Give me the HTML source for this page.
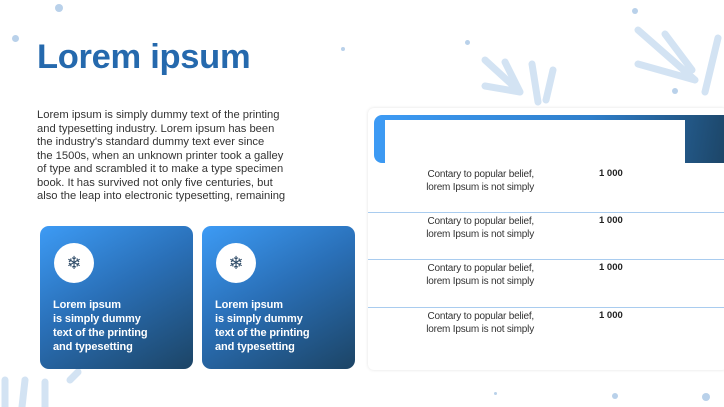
<!DOCTYPE html>
<html><head><style>
body{margin:0;width:724px;height:407px;overflow:hidden;background:#fff;font-family:"Liberation Sans",sans-serif;position:relative}
.a{position:absolute}
.dot{position:absolute;border-radius:50%;background:#b9d1ea}
.card{position:absolute;top:226px;width:153px;height:143px;border-radius:9px;background:linear-gradient(150deg,#3d9bf5 0%,#2a70b8 45%,#1c4465 100%)}
.circ{position:absolute;left:14px;top:17px;width:40px;height:40px;border-radius:50%;background:#fff;text-align:center;line-height:40px;color:#2d4a66;font-size:18px}
.ct{position:absolute;left:13px;top:72px;color:#fff;font-weight:bold;font-size:11px;line-height:14px;letter-spacing:-0.1px}
.rt{position:absolute;right:190px;width:170px;text-align:right;font-size:10px;line-height:13px;color:#333;letter-spacing:-0.2px}
.num{position:absolute;left:599px;font-size:9.5px;font-weight:bold;color:#222}
.ln{position:absolute;left:368px;width:356px;height:1px;background:#a9ccef}
</style></head><body>
<svg class="a" style="left:0;top:0" width="724" height="407">
<g fill="none" stroke="#d3e3f3" stroke-width="7" stroke-linecap="round" stroke-linejoin="round">
<path d="M485 60 L520 92 M505 62 L520 92 M485 86 L520 92 M532 64 L538 102 M553 70 L546 100"/>
<path d="M638 30 L695 80 M665 34 L692 70 M638 64 L695 80 M718 38 L705 92"/>
<path d="M5 380 L5 407 M25 380 L22 407 M45 382 L45 407 M70 380 L78 372"/>
</g>
</svg>
<div class="dot" style="left:55px;top:4px;width:8px;height:8px"></div>
<div class="dot" style="left:12px;top:35px;width:7px;height:7px"></div>
<div class="dot" style="left:632px;top:8px;width:6px;height:6px"></div>
<div class="dot" style="left:465px;top:40px;width:5px;height:5px"></div>
<div class="dot" style="left:672px;top:88px;width:6px;height:6px"></div>
<div class="dot" style="left:341px;top:47px;width:4px;height:4px"></div>
<div class="dot" style="left:612px;top:393px;width:6px;height:6px"></div>
<div class="dot" style="left:702px;top:393px;width:8px;height:8px"></div>
<div class="dot" style="left:494px;top:392px;width:3px;height:3px"></div>
<div class="a" style="left:37px;top:38px;font-size:34.5px;font-weight:bold;color:#2569ad;letter-spacing:-0.3px">Lorem ipsum</div>
<div class="a" style="left:37px;top:109px;font-size:11.2px;line-height:13.5px;color:#333;white-space:nowrap;letter-spacing:0px">Lorem ipsum is simply dummy text of the printing<br>and typesetting industry. Lorem ipsum has been<br>the industry's standard dummy text ever since<br>the 1500s, when an unknown printer took a galley<br>of type and scrambled it to make a type specimen<br>book. It has survived not only five centuries, but<br>also the leap into electronic typesetting, remaining</div>
<div class="card" style="left:40px"><div class="circ">❄</div><div class="ct">Lorem ipsum<br>is simply dummy<br>text of the printing<br>and typesetting</div></div>
<div class="card" style="left:202px"><div class="circ">❄</div><div class="ct">Lorem ipsum<br>is simply dummy<br>text of the printing<br>and typesetting</div></div>
<div class="a" style="left:368px;top:108px;width:360px;height:262px;border-radius:6px;background:#fff;box-shadow:0 0 3px rgba(0,0,0,0.12)"></div>
<div class="a" style="left:374px;top:115px;width:354px;height:48px;border-radius:8px 0 0 8px;background:linear-gradient(100deg,#3d9bf5 0%,#2f7fcb 60%,#1c4465 100%)"></div>
<div class="a" style="left:385px;top:120px;width:300px;height:43px;background:#fff"></div>
<div class="ln" style="top:212px"></div><div class="ln" style="top:259px"></div><div class="ln" style="top:307px"></div>
<div class="rt" style="top:168px">Contary to popular belief,<br>lorem Ipsum is not simply</div><div class="num" style="top:168px">1 000</div>
<div class="rt" style="top:215px">Contary to popular belief,<br>lorem Ipsum is not simply</div><div class="num" style="top:215px">1 000</div>
<div class="rt" style="top:262px">Contary to popular belief,<br>lorem Ipsum is not simply</div><div class="num" style="top:262px">1 000</div>
<div class="rt" style="top:310px">Contary to popular belief,<br>lorem Ipsum is not simply</div><div class="num" style="top:310px">1 000</div>
</body></html>
